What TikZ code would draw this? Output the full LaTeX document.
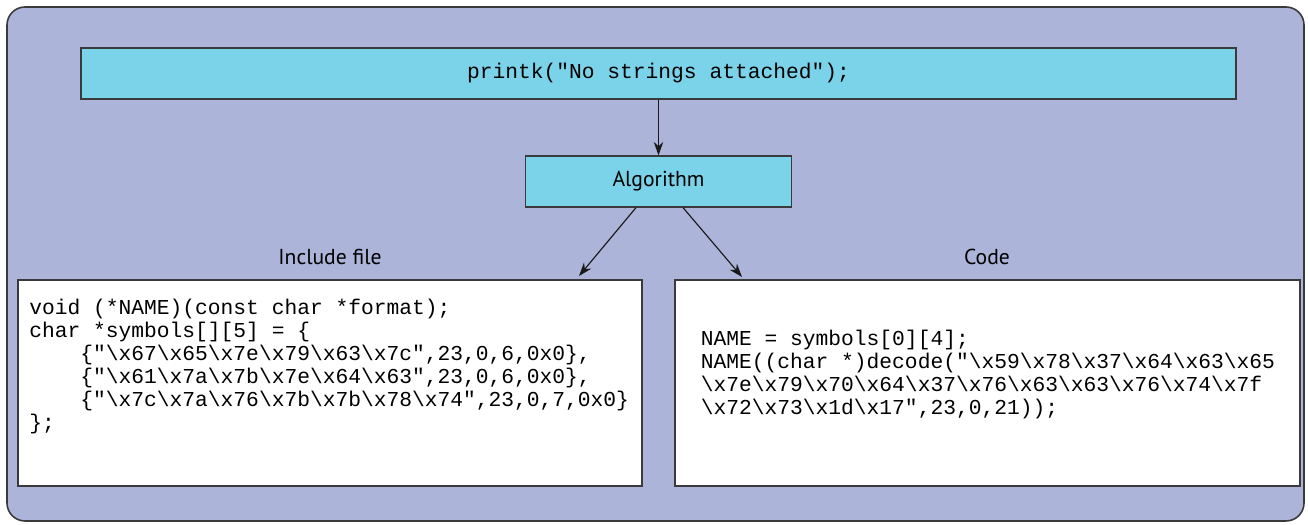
\documentclass[tikz,border=0pt]{standalone}
\usepackage{fontspec}
\setmainfont{PT Sans}
\setmonofont{Liberation Mono}
\usetikzlibrary{arrows.meta}
\definecolor{panelblue}{HTML}{ADB4DA}
\definecolor{boxcyan}{HTML}{7BD3EA}
\definecolor{edgegray}{HTML}{3A3A3A}
\newcommand{\bs}{\textbackslash}
\newcommand{\codefont}{\ttfamily\fontsize{12.1pt}{13.08pt}\selectfont}
\newcommand{\labelfont}{\fontsize{12.3pt}{14pt}\selectfont}
\newcommand{\codeln}[1]{\hbox{#1}}
\tikzstyle{cyanblock} = [draw=edgegray, fill=boxcyan, line width=0.7pt, inner sep=0pt]
\tikzstyle{codeblock} = [draw=edgegray, fill=white, line width=0.7pt, inner sep=0pt]
\tikzstyle{codetext} = [font=\codefont, anchor=base west, inner sep=0pt]
\tikzstyle{flow} = [-{Stealth[length=2.7mm, width=1.9mm]}, line width=0.65pt, draw=black!90]

\begin{document}
\begin{tikzpicture}
      \useasboundingbox (0, 0) rectangle (26.16, 10.48);
      \draw[edgegray, fill=panelblue, line width=0.9pt, rounded corners=0.36cm] (0.14, 0.06) rectangle (26.08, 10.34);
      \node[cyanblock, minimum width=23.1cm, minimum height=1.02cm, font=\codefont] (printk) at (13.17, 9.01) {printk("No strings attached");};
      \node[cyanblock, minimum width=5.32cm, minimum height=1.02cm, font=\labelfont] (alg) at (13.17, 6.85) {Algorithm};
      \node[codeblock, minimum width=12.48cm, minimum height=4.12cm] (incbox) at (6.60, 2.82) {};
      \node[codeblock, minimum width=12.5cm, minimum height=4.12cm] (codebox) at (19.75, 2.82) {};
      \node[font=\labelfont] (inclabel) at (6.6, 5.34) {Include file};
      \node[font=\labelfont] (codelabel) at (19.74, 5.34) {Code};
      \node[codetext] (inctext) at (0.58, 4.18) {\vtop{
        \codeln{void (*NAME)(const char *format);}
        \codeln{char *symbols[][5] = \{}
        \codeln{\hphantom{xxxx}\{"\bs x67\bs x65\bs x7e\bs x79\bs x63\bs x7c",23,0,6,0x0\},}
        \codeln{\hphantom{xxxx}\{"\bs x61\bs x7a\bs x7b\bs x7e\bs x64\bs x63",23,0,6,0x0\},}
        \codeln{\hphantom{xxxx}\{"\bs x7c\bs x7a\bs x76\bs x7b\bs x7b\bs x78\bs x74",23,0,7,0x0\}}
        \codeln{\};}}};
      \node[codetext] (codetext) at (14.01, 3.57) {\vtop{
        \codeln{NAME = symbols[0][4];}
        \codeln{NAME((char *)decode("\bs x59\bs x78\bs x37\bs x64\bs x63\bs x65}
        \codeln{\bs x7e\bs x79\bs x70\bs x64\bs x37\bs x76\bs x63\bs x63\bs x76\bs x74\bs x7f}
        \codeln{\bs x72\bs x73\bs x1d\bs x17",23,0,21));}}};
      \coordinate (inctip) at (11.58, 4.96);
      \coordinate (codetip) at (14.84, 4.94);
      \draw[flow] (printk) -- (alg);
      \draw[flow] ([xshift=-0.45cm]alg.south) -- (inctip);
      \draw[flow] ([xshift=0.49cm]alg.south) -- (codetip);
    \end{tikzpicture}
\end{document}
